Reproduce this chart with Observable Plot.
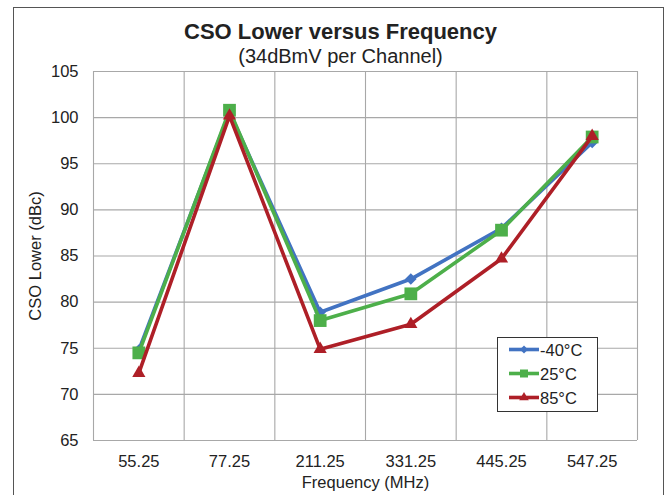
<!DOCTYPE html>
<html><head><meta charset="utf-8">
<script src="https://cdn.jsdelivr.net/npm/d3@7"></script>
<script src="https://cdn.jsdelivr.net/npm/@observablehq/plot@0.6"></script>
<style>
html,body{margin:0;padding:0;background:#fff;}
#wrap{position:relative;width:666px;height:495px;overflow:hidden;font-family:"Liberation Sans",Arial,sans-serif;color:#222;}
#chart{position:absolute;left:0;top:0;}
#border{position:absolute;left:13px;top:7px;width:651px;height:520px;border:1.5px solid #555;box-sizing:border-box;pointer-events:none;}
#title{position:absolute;left:0;width:681px;top:19px;text-align:center;font-weight:bold;font-size:22px;line-height:25px;}
#subtitle{position:absolute;left:0;width:681px;top:45px;text-align:center;font-size:20px;line-height:22px;}
#legend{position:absolute;left:497px;top:337px;}
</style></head>
<body>
<div id="wrap">
  <div id="chart"></div>
  <div id="title">CSO Lower versus Frequency</div>
  <div id="subtitle">(34dBmV per Channel)</div>
  <div id="legend"></div>
  <div id="border"></div>
</div>
<script>
// ---- data ----
const categories = ["55.25", "77.25", "211.25", "331.25", "445.25", "547.25"];
const series = ["-40°C", "25°C", "85°C"];
const valuesMinus40 = [74.8, 100.6, 78.9, 82.5, 88.0, 97.3];
const values25 = [74.5, 100.8, 78.0, 80.9, 87.8, 97.9];
const values85 = [72.3, 100.2, 74.9, 77.6, 84.7, 98.0];
const yTicks = [65, 70, 75, 80, 85, 90, 95, 100, 105];

const colors = ["#4273C2", "#4DAF4A", "#AE1F27"];
const symbols = ["diamond2", "square", "triangle"];
const symbolR = [5.2, 7.2, 4.9];

const allValues = [valuesMinus40, values25, values85];
const data = series.flatMap((s, k) => allValues[k].map((v, i) => ({i, v, s})));

const gridX = d3.range(categories.length + 1).map(i => i - 0.5);

const marks = [
  Plot.ruleY(yTicks, {stroke: "#a8a8a8", strokeWidth: 1.1}),
  Plot.ruleX(gridX, {stroke: "#a8a8a8", strokeWidth: 1.1}),
  Plot.axisY(yTicks, {tickSize: 0, tickPadding: 15, fontSize: 16.5, label: "CSO Lower (dBc)", labelArrow: "none", labelAnchor: "center", labelOffset: 64}),
  Plot.axisX(d3.range(categories.length), {tickSize: 0, tickPadding: 15, fontSize: 16.5, tickFormat: i => categories[i], label: "Frequency (MHz)", labelArrow: "none", labelAnchor: "center", labelOffset: 47})
];
series.forEach((s, k) => {
  const rows = data.filter(d => d.s === s);
  marks.push(Plot.line(rows, {x: "i", y: "v", stroke: colors[k], strokeWidth: 3.6, strokeLinejoin: "miter"}));
  marks.push(Plot.dot(rows, {x: "i", y: "v", fill: colors[k], stroke: "none", symbol: () => symbols[k], r: symbolR[k]}));
});

const chart = Plot.plot({
  width: 666,
  height: 495,
  marginLeft: 93,
  marginRight: 29,
  marginTop: 71,
  marginBottom: 55,
  style: {fontFamily: "'Liberation Sans', Arial, sans-serif", fontSize: "16.5px", color: "#222", background: "transparent"},
  x: {type: "linear", domain: [-0.5, categories.length - 0.5]},
  y: {domain: [65, 105]},
  symbol: {type: "identity"},
  marks
});
document.getElementById("chart").appendChild(chart);

// ---- legend ----
const lg = d3.select("#legend").append("svg").attr("width", 101).attr("height", 75);
lg.append("rect").attr("x", 0.5).attr("y", 0.5).attr("width", 100).attr("height", 74).attr("fill", "#fff").attr("stroke", "#333").attr("stroke-width", 1);
const d3sym = {diamond2: d3.symbolDiamond2, square: d3.symbolSquare, triangle: d3.symbolTriangle};
const legendSize = [42, 64, 40];
series.forEach((s, k) => {
  const y = 12.5 + k * 24;
  lg.append("line").attr("x1", 12).attr("x2", 42).attr("y1", y).attr("y2", y).attr("stroke", colors[k]).attr("stroke-width", 3.6);
  lg.append("path").attr("d", d3.symbol(d3sym[symbols[k]], legendSize[k])()).attr("transform", `translate(27,${y})`).attr("fill", colors[k]);
  lg.append("text").attr("x", 43).attr("y", y + 6).attr("font-size", 16.5).attr("fill", "#222").attr("font-family", "'Liberation Sans', Arial, sans-serif").text(s);
});
</script>
</body></html>
